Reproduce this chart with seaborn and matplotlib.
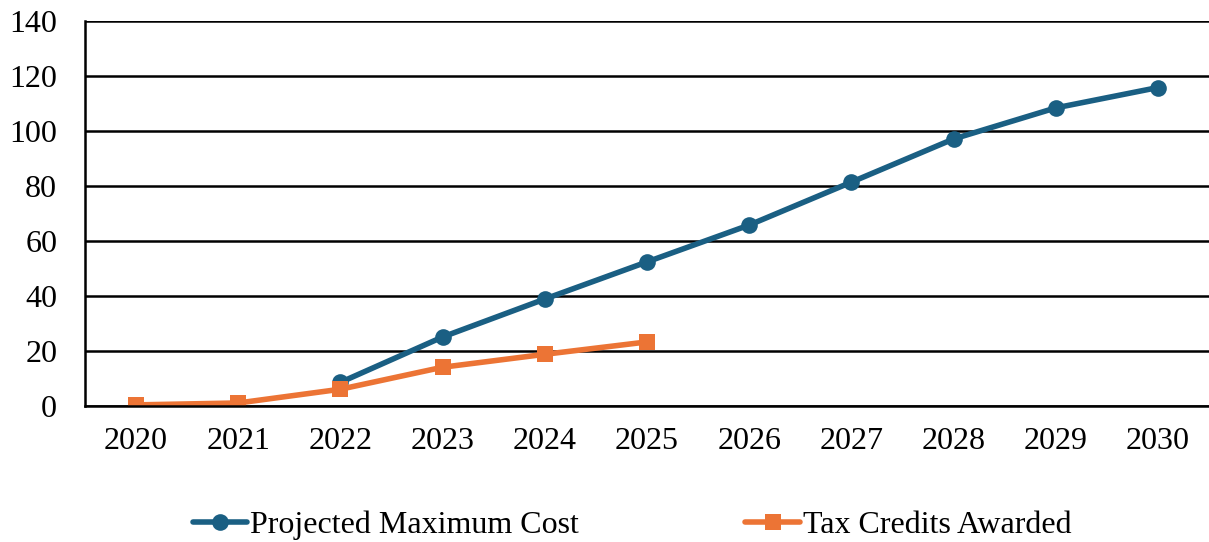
import matplotlib
matplotlib.use("Agg")
import matplotlib.pyplot as plt
import seaborn as sns
import pandas as pd
import numpy as np

years = ["2020", "2021", "2022", "2023", "2024", "2025", "2026", "2027", "2028", "2029", "2030"]
projected_years = ["2022", "2023", "2024", "2025", "2026", "2027", "2028", "2029", "2030"]
projected_cost = [8.6, 25.1, 38.9, 52.4, 65.8, 81.4, 97.1, 108.4, 115.8]
credit_years = ["2020", "2021", "2022", "2023", "2024", "2025"]
credits_awarded = [0.4, 1.1, 6.1, 14.1, 18.8, 23.3]
y_ticks = [0, 20, 40, 60, 80, 100, 120, 140]

sns.set_theme(style="white")
plt.rcParams['font.family'] = ['Liberation Serif', 'DejaVu Serif']
plt.rcParams['text.color'] = 'black'

blue = "#1A5F83"
orange = "#EC7435"

df1 = pd.DataFrame({"year": [years.index(y) for y in projected_years], "value": projected_cost})
df2 = pd.DataFrame({"year": [years.index(y) for y in credit_years], "value": credits_awarded})

fig = plt.figure(figsize=(12.09, 5.42), dpi=100)
ax = fig.add_axes([85/1209, 1 - 406/542, 1124/1209, 385/542])

sns.lineplot(data=df1, x="year", y="value", ax=ax, color=blue, linewidth=4,
             marker="o", markersize=12, markeredgewidth=0, label="Projected Maximum Cost")
sns.lineplot(data=df2, x="year", y="value", ax=ax, color=orange, linewidth=4,
             marker="s", markersize=11, markeredgewidth=0, label="Tax Credits Awarded")

ax.set_xlim(-0.5, len(years) - 0.5)
ax.set_ylim(0, 140)
ax.set_xticks(range(len(years)))
ax.set_xticklabels(years)
ax.set_yticks(y_ticks)
ax.yaxis.grid(True, color="black", linewidth=1.8)
ax.set_axisbelow(True)
ax.set_xlabel("")
ax.set_ylabel("")
for s in ["top", "right"]:
    ax.spines[s].set_visible(False)
ax.spines["left"].set_color("black")
ax.spines["left"].set_linewidth(1.8)
ax.spines["bottom"].set_color("black")
ax.spines["bottom"].set_linewidth(1.8)
ax.tick_params(axis="both", length=0, labelsize=23, colors="black")
ax.tick_params(axis="x", pad=15)
ax.tick_params(axis="y", pad=20)

leg = ax.legend(loc="center", bbox_to_anchor=(0.5 - 85/1209/2 + 0.022, -0.31), ncol=2, frameon=False,
                fontsize=23, handlelength=1.7, handletextpad=0.1, columnspacing=5.2)
for t in leg.get_texts():
    t.set_color("black")

fig.savefig("out.png", dpi=100)
